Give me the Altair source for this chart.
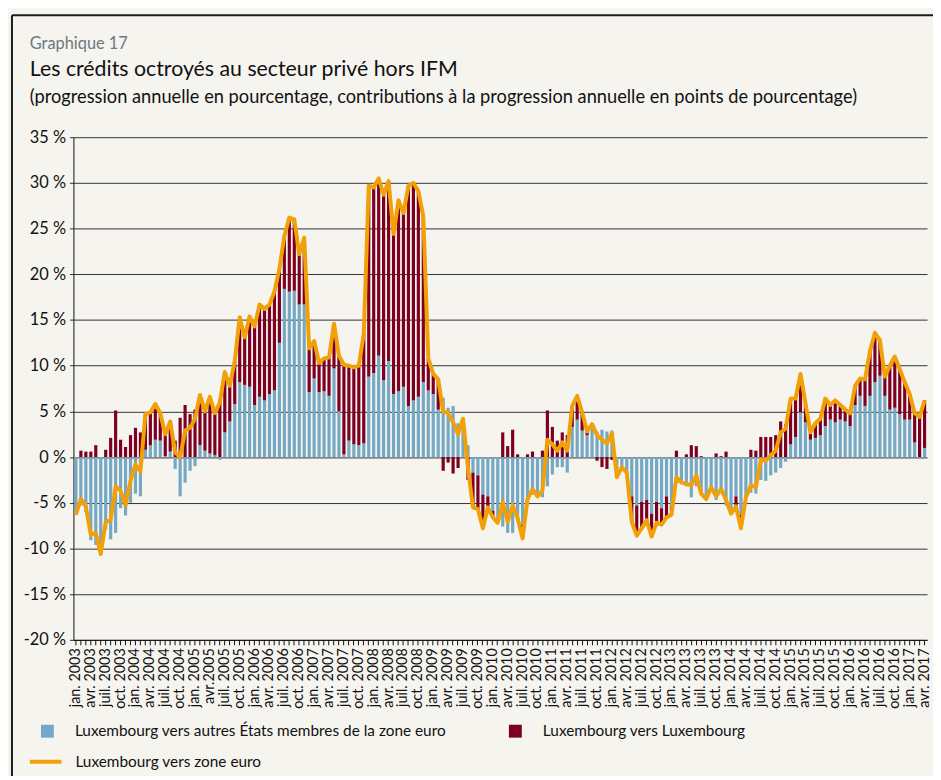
import altair as alt
import pandas as pd

# ---------------- data ----------------
tick_labels = [
    "jan. 2003", "avr. 2003", "juil. 2003", "oct. 2003",
    "jan. 2004", "avr. 2004", "juil. 2004", "oct. 2004",
    "jan. 2005", "avr.2005", "juil. 2005", "oct. 2005",
    "jan. 2006", "avr. 2006", "juil. 2006", "oct. 2006",
    "jan. 2007", "avr. 2007", "juil. 2007", "oct. 2007",
    "jan. 2008", "avr. 2008", "juil. 2008", "oct. 2008",
    "jan. 2009", "avr. 2009", "juil. 2009", "oct. 2009",
    "jan. 2010", "avr. 2010", "juil. 2010", "oct. 2010",
    "jan. 2011", "avr. 2011", "juil. 2011", "oct. 2011",
    "jan. 2012", "avr. 2012", "juil. 2012", "oct. 2012",
    "jan. 2013", "avr. 2013", "juil. 2013", "oct. 2013",
    "jan. 2014", "avr. 2014", "juil. 2014", "oct. 2014",
    "jan. 2015", "avr. 2015", "juil. 2015", "oct. 2015",
    "jan. 2016", "avr. 2016", "juil. 2016", "oct. 2016",
    "jan. 2017", "avr. 2017",
]

series_names = [
    "Luxembourg vers autres États membres de la zone euro",
    "Luxembourg vers Luxembourg",
    "Luxembourg vers zone euro",
]

# contributions: other euro-area member states (blue), monthly from jan. 2003
blue_vals = [
    -6.3, -5.3, -6.0, -9.1, -9.6, -10.6, -7.9, -9.0, -8.3, -5.6, -6.4, -5.0,
    -4.0, -4.3, 0.8, 1.3, 1.9, 1.8, 0.1, 0.6, -1.3, -4.3, -2.8, -1.5,
    -1.0, 1.3, 0.7, 0.4, 0.2, -0.3, 2.7, 3.9, 5.8, 8.2, 7.9, 7.7,
    5.7, 6.6, 6.2, 6.9, 7.3, 12.5, 18.4, 18.1, 18.2, 16.7, 16.7, 7.1,
    8.6, 7.1, 7.2, 6.7, 9.7, 5.0, 0.3, 1.8, 1.4, 1.3, 1.5, 8.8,
    9.2, 11.1, 8.4, 10.5, 6.9, 7.2, 7.7, 5.6, 6.2, 6.6, 8.2, 7.3,
    6.9, 5.2, 6.5, 5.4, 5.6, 3.7, 4.2, 1.3, -1.7, -2.0, -4.1, -4.3,
    -5.9, -7.2, -7.6, -8.3, -8.3, -7.0, -7.4, -4.9, -4.1, -4.3, -4.4, -3.2,
    -1.9, -1.1, -1.1, -1.7, 3.3, 4.1, 2.9, 2.4, 3.6, 2.8, 3.0, 2.8,
    2.9, -1.5, -1.1, -1.7, -4.3, -5.3, -4.9, -4.7, -6.2, -4.9, -5.6, -4.3,
    -5.4, -2.9, -2.8, -3.2, -4.4, -3.2, -4.1, -4.6, -3.3, -4.7, -3.6, -5.3,
    -6.2, -4.3, -6.3, -4.4, -3.9, -4.0, -2.5, -2.6, -2.0, -1.7, -1.2, -0.5,
    1.4, 2.2, 4.9, 3.8, 1.9, 2.1, 2.4, 3.4, 4.1, 3.8, 4.1, 3.9,
    3.4, 5.7, 6.7, 5.6, 6.7, 8.2, 8.9, 6.7, 5.2, 5.4, 4.7, 4.1,
    4.1, 1.6, -0.2, 1.0,
]

# contributions: Luxembourg to Luxembourg (dark red)
red_vals = [
    0.0, 0.7, 0.6, 0.6, 1.3, 0.0, 0.8, 2.1, 5.1, 1.9, 1.1, 2.4,
    3.2, 2.7, 3.9, 3.6, 3.9, 3.0, 2.4, 3.3, 1.8, 4.3, 5.7, 4.7,
    5.2, 5.5, 4.3, 6.2, 4.6, 6.3, 6.6, 3.9, 4.7, 7.1, 5.2, 7.7,
    8.6, 10.1, 10.0, 9.8, 10.8, 8.1, 5.8, 8.1, 7.8, 5.5, 7.3, 4.8,
    4.1, 3.2, 3.6, 4.2, 4.9, 6.1, 9.8, 8.2, 8.4, 8.7, 12.0, 20.9,
    20.3, 19.4, 20.3, 19.7, 17.5, 20.9, 19.0, 24.1, 23.8, 22.5, 18.1, 3.5,
    2.2, 3.3, -1.5, -0.6, -1.8, -1.2, 0.0, -2.5, -3.8, -3.7, -3.7, -1.2,
    -0.7, 0.0, 2.7, 1.2, 3.0, 0.3, -1.5, 0.3, 0.6, 0.0, 0.7, 5.1,
    3.3, 1.8, 2.7, 2.4, 2.3, 2.6, 2.0, 0.4, 0.0, -0.4, -1.1, -1.3,
    -0.3, -0.7, 0.0, 0.0, -2.8, -3.3, -2.9, -2.2, -2.5, -2.3, -1.8, -2.3,
    -0.9, 0.7, 0.0, 0.3, 1.3, 1.2, 0.1, 0.0, 0.0, 0.4, 0.1, 0.6,
    0.0, -1.1, -1.5, 0.0, 0.8, 0.7, 2.2, 2.2, 2.2, 2.4, 3.9, 3.6,
    5.0, 4.2, 4.2, 2.1, 0.8, 1.6, 1.8, 3.0, 1.6, 2.4, 1.6, 1.3,
    1.4, 2.1, 1.9, 2.9, 4.9, 5.4, 3.9, 2.1, 4.8, 5.6, 4.9, 4.1,
    2.8, 3.2, 4.6, 5.2,
]

# annual growth rate, Luxembourg to euro area (orange line)
total_vals = [
    -6.3, -4.6, -5.4, -8.5, -8.3, -10.6, -7.1, -6.9, -3.2, -3.7, -5.3, -2.6,
    -0.8, -1.6, 4.7, 4.9, 5.8, 4.8, 2.5, 3.9, 0.5, 0.0, 2.9, 3.2,
    4.2, 6.8, 5.0, 6.6, 4.8, 6.0, 9.3, 7.8, 10.5, 15.3, 13.1, 15.4,
    14.3, 16.7, 16.2, 16.7, 18.1, 20.6, 24.2, 26.2, 26.0, 22.2, 24.0, 11.9,
    12.7, 10.3, 10.8, 10.9, 14.6, 11.1, 10.1, 10.0, 9.8, 10.0, 13.5, 29.7,
    29.5, 30.5, 28.7, 30.2, 24.4, 28.1, 26.7, 29.7, 30.0, 29.1, 26.3, 10.8,
    9.1, 8.5, 5.0, 4.8, 3.8, 2.5, 4.2, -1.2, -5.5, -5.7, -7.8, -5.5,
    -6.6, -7.2, -4.9, -7.1, -5.3, -6.7, -8.9, -4.6, -3.5, -4.3, -3.7, 1.9,
    1.4, 0.7, 1.6, 0.7, 5.6, 6.7, 4.9, 2.8, 3.6, 2.4, 1.9, 1.5,
    2.6, -2.2, -1.1, -1.7, -7.1, -8.6, -7.8, -6.9, -8.7, -7.2, -7.4, -6.6,
    -6.3, -2.2, -2.8, -2.9, -3.1, -2.0, -4.0, -4.6, -3.3, -4.3, -3.5, -4.7,
    -6.2, -5.4, -7.8, -4.4, -3.1, -3.3, -0.3, -0.4, 0.2, 0.7, 2.7, 3.1,
    6.4, 6.4, 9.1, 5.9, 2.7, 3.7, 4.2, 6.4, 5.7, 6.2, 5.7, 5.2,
    4.8, 7.8, 8.6, 8.5, 11.6, 13.6, 12.8, 8.8, 10.0, 11.0, 9.6, 8.2,
    6.9, 4.8, 4.4, 6.2,
]

chart_label = "Graphique 17"
title_text = "Les crédits octroyés au secteur privé hors IFM"
subtitle_text = ("(progression annuelle en pourcentage, contributions à la "
                 "progression annuelle en points de pourcentage)")

colors = ["#74a8c4", "#7d0022", "#f2a007"]
FONT = "Lato"
BG = "#f6f4ef"

# ---------------- tables ----------------
n = len(total_vals)
bars_df = pd.DataFrame({
    "m": list(range(n)) * 2,
    "series": [series_names[0]] * n + [series_names[1]] * n,
    "value": blue_vals + red_vals,
    "ord": [0] * n + [1] * n,
})
line_df = pd.DataFrame({
    "m": list(range(n)),
    "value": total_vals,
    "lseries": [series_names[2]] * n,
})
one_df = pd.DataFrame({"a": [chart_label], "b": [title_text], "c": [subtitle_text]})

label_js = "[" + ",".join("'%s'" % t for t in tick_labels) + "]"

x_enc = alt.X(
    "m:O",
    scale=alt.Scale(paddingInner=0.36, paddingOuter=0.18),
    axis=alt.Axis(
        title=None, labelAngle=-90,
        labelExpr=f"datum.value % 3 == 0 ? {label_js}[datum.value / 3] : ''",
        labelOverlap=False, labelFontSize=14.5, labelPadding=3, labelColor="#111",
        tickSize=5, tickColor="#111", domainColor="#111", grid=False,
    ),
)

y_scale = alt.Scale(domain=[-20, 35], nice=False, zero=False)
y_axis = alt.Axis(
    title=None, values=list(range(-20, 36, 5)),
    labelExpr="datum.value + ' %'", labelFontSize=16.5, labelColor="#111",
    labelPadding=4, tickSize=4, tickColor="#333",
    gridColor="#333333", gridWidth=1, domainColor="#111",
)

bars = alt.Chart(bars_df).mark_bar().encode(
    x=x_enc,
    y=alt.Y("value:Q", stack="zero", scale=y_scale, axis=y_axis),
    color=alt.Color(
        "series:N",
        scale=alt.Scale(domain=series_names[:2], range=colors[:2]),
        legend=alt.Legend(
            title=None, orient="none", legendX=-34, legendY=591, columns=2,
            columnPadding=62, symbolType="square", symbolSize=169,
            symbolStrokeWidth=0, labelFontSize=15.5, labelOffset=20,
            labelLimit=600, labelColor="#111", padding=0,
        ),
    ),
    order=alt.Order("ord:Q"),
)

line = alt.Chart(line_df).mark_line(strokeWidth=4, strokeJoin="round").encode(
    x=x_enc,
    y=alt.Y("value:Q", scale=y_scale, axis=y_axis),
    stroke=alt.Stroke(
        "lseries:N",
        scale=alt.Scale(domain=[series_names[2]], range=[colors[2]]),
        legend=alt.Legend(
            title=None, orient="none", legendX=-46, legendY=612,
            symbolType="stroke", symbolSize=1024, symbolStrokeWidth=4,
            labelFontSize=15.5, labelOffset=12, labelLimit=600,
            labelColor="#111", padding=0,
        ),
    ),
)

base_txt = alt.Chart(one_df)
label = base_txt.mark_text(
    align="left", baseline="alphabetic", fontSize=16.5, color="#6d7880", font=FONT
).encode(x=alt.value(-44), y=alt.value(-89), text="a:N")
title = base_txt.mark_text(
    align="left", baseline="alphabetic", fontSize=21.5, color="#111", font=FONT
).encode(x=alt.value(-44), y=alt.value(-62), text="b:N")
subtitle = base_txt.mark_text(
    align="left", baseline="alphabetic", fontSize=18.4, color="#111", font=FONT
).encode(x=alt.value(-44), y=alt.value(-35), text="c:N")

frame_top = base_txt.mark_rule(color="#1c1c1c", strokeWidth=2).encode(
    x=alt.value(-62), x2=alt.value(870), y=alt.value(-123)
)
frame_left = base_txt.mark_rule(color="#1c1c1c", strokeWidth=2).encode(
    x=alt.value(-62), y=alt.value(-123), y2=alt.value(660)
)

chart = alt.layer(frame_top, frame_left, bars, line, label, title, subtitle).properties(
    width=861,
    height=507,
    padding={"left": 66, "top": 127, "right": 6, "bottom": 134},
    autosize=alt.AutoSizeParams(type="none"),
    background=BG,
).configure_view(stroke=None).configure_axis(labelFont=FONT).configure_legend(
    labelFont=FONT
)

chart.save("out.html", embed_options={"renderer": "svg", "actions": False})
